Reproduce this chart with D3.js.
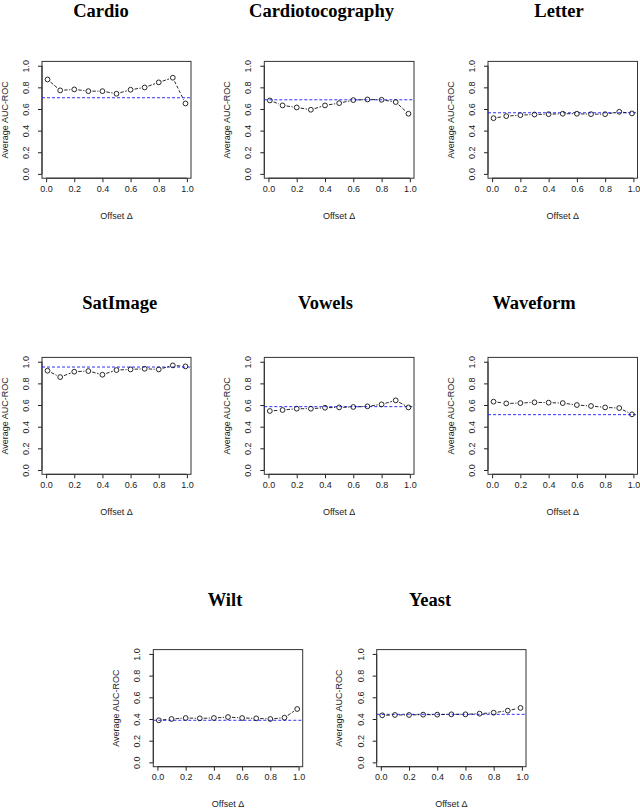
<!DOCTYPE html>
<html>
<head>
<meta charset="utf-8">
<script src="https://cdn.jsdelivr.net/npm/d3@7"></script>
<style>
  html, body { margin: 0; padding: 0; background: #fff; }
  svg { display: block; }
</style>
</head>
<body>
<svg id="chart" width="640" height="809"></svg>
<script>
// ---------------- DATA ----------------
const offsets = [0.01, 0.1, 0.2, 0.3, 0.4, 0.5, 0.6, 0.7, 0.8, 0.9, 0.99];
const datasetNames = ["Cardio", "Cardiotocography", "Letter", "SatImage", "Vowels", "Waveform", "Wilt", "Yeast"];
const cardio           = [0.873, 0.772, 0.781, 0.765, 0.765, 0.741, 0.778, 0.799, 0.846, 0.889, 0.651];
const cardiotocography = [0.679, 0.633, 0.614, 0.593, 0.633, 0.654, 0.682, 0.688, 0.685, 0.664, 0.556];
const letter           = [0.515, 0.534, 0.543, 0.549, 0.552, 0.556, 0.556, 0.552, 0.552, 0.574, 0.559];
const satimage         = [0.917, 0.858, 0.908, 0.914, 0.880, 0.923, 0.929, 0.935, 0.929, 0.966, 0.957];
const vowels           = [0.545, 0.554, 0.566, 0.566, 0.575, 0.578, 0.582, 0.588, 0.606, 0.643, 0.578];
const waveform         = [0.631, 0.615, 0.618, 0.625, 0.622, 0.618, 0.600, 0.591, 0.578, 0.572, 0.514];
const wilt             = [0.388, 0.400, 0.409, 0.406, 0.409, 0.418, 0.409, 0.406, 0.400, 0.412, 0.492];
const yeast            = [0.434, 0.437, 0.437, 0.440, 0.440, 0.443, 0.443, 0.449, 0.458, 0.477, 0.502];
const baselines        = [0.704, 0.685, 0.565, 0.951, 0.585, 0.511, 0.388, 0.443];
const xTicks = [0, 0.2, 0.4, 0.6, 0.8, 1.0];
const yTicks = [0, 0.2, 0.4, 0.6, 0.8, 1.0];
const xLabel = "Offset \u0394";
const yLabel = "Average AUC-ROC";
const seriesValues = [cardio, cardiotocography, letter, satimage, vowels, waveform, wilt, yeast];

// ---------------- LAYOUT ----------------
// plot box [left, top, right, bottom] and title [centerX, baselineY]
const boxes = [
  [42, 61.4, 191, 178.2],
  [264.3, 61.4, 414, 178.2],
  [488, 61.4, 637.5, 178.2],
  [42, 357.4, 191, 474.3],
  [264.3, 357.4, 414, 474.3],
  [488, 357.4, 637.5, 474.3],
  [153.3, 649.6, 302.7, 766.7],
  [376.7, 649.6, 526, 766.7]
];
const titlePos = [
  [101, 16.5], [321.5, 16.5], [559, 16.5],
  [119.7, 309], [325.5, 309], [534, 309],
  [225, 606], [430, 606]
];

const svg = d3.select("#chart");
const sansFont = "'Liberation Sans', Arial, Helvetica, sans-serif";
const serifFont = "'Liberation Serif', 'Times New Roman', Times, serif";

// R-style 4% axis extension
const xr = d3.extent(offsets);
const xPad = (xr[1] - xr[0]) * 0.04;
const xDomain = [xr[0] - xPad, xr[1] + xPad];
const yDomain = [0 - 0.04, 1 + 0.04];

datasetNames.forEach((name, i) => {
  const [L, T, R, B] = boxes[i];
  const x = d3.scaleLinear().domain(xDomain).range([L, R]);
  const y = d3.scaleLinear().domain(yDomain).range([B, T]);
  const g = svg.append("g");
  const vals = seriesValues[i];

  // title
  g.append("text")
    .attr("x", titlePos[i][0]).attr("y", titlePos[i][1])
    .attr("text-anchor", "middle")
    .attr("font-family", serifFont)
    .attr("font-weight", "bold")
    .attr("font-size", 18.5)
    .attr("fill", "#000")
    .text(name);

  // x axis
  const xAxis = d3.axisBottom(x).tickValues(xTicks).tickSize(4).tickPadding(3)
    .tickFormat(d3.format(".1f"));
  const gx = g.append("g").attr("transform", `translate(0,${B})`).call(xAxis);
  gx.select(".domain").attr("d", `M${x(0)},0H${x(1)}`).attr("stroke", "#222");
  gx.selectAll(".tick line").attr("stroke", "#222");
  gx.selectAll("text").attr("font-family", sansFont).attr("font-size", 9).attr("fill", "#222");

  // y axis
  const yAxis = d3.axisLeft(y).tickValues(yTicks).tickSize(4).tickPadding(3)
    .tickFormat(d3.format(".1f"));
  const gy = g.append("g").attr("transform", `translate(${L},0)`).call(yAxis);
  gy.select(".domain").attr("d", `M0,${y(0)}V${y(1)}`).attr("stroke", "#222");
  gy.selectAll(".tick line").attr("stroke", "#222");
  gy.selectAll("text")
    .attr("font-family", sansFont).attr("font-size", 9).attr("fill", "#222")
    .attr("x", null).attr("dy", null)
    .attr("text-anchor", "middle")
    .attr("transform", "translate(-13,0) rotate(-90)");

  // box
  g.append("rect")
    .attr("x", L).attr("y", T).attr("width", R - L).attr("height", B - T)
    .attr("fill", "none").attr("stroke", "#333").attr("stroke-width", 1);

  // axis titles
  g.append("text")
    .attr("x", (L + R) / 2).attr("y", B + 40.5)
    .attr("text-anchor", "middle")
    .attr("font-family", sansFont).attr("font-size", 9).attr("fill", "#222")
    .text(xLabel);
  g.append("text")
    .attr("transform", `translate(${L - 34.5},${(T + B) / 2}) rotate(-90)`)
    .attr("text-anchor", "middle")
    .attr("font-family", sansFont).attr("font-size", 9).attr("fill", "#222")
    .text(yLabel);

  // baseline (blue dashed)
  g.append("line")
    .attr("x1", L).attr("x2", R)
    .attr("y1", y(baselines[i])).attr("y2", y(baselines[i]))
    .attr("stroke", "#1a1aff").attr("stroke-width", 0.9)
    .attr("stroke-dasharray", "3,2");

  // type="b" dashed connecting segments with gaps at points
  const r = 2.4, gap = r + 1.6;
  const pts = offsets.map((o, k) => [x(o), y(vals[k])]);
  for (let k = 0; k < pts.length - 1; k++) {
    const [x1, y1] = pts[k], [x2, y2] = pts[k + 1];
    const dx = x2 - x1, dy = y2 - y1, len = Math.hypot(dx, dy);
    if (len <= 2 * gap) continue;
    const ux = dx / len, uy = dy / len;
    g.append("line")
      .attr("x1", x1 + ux * gap).attr("y1", y1 + uy * gap)
      .attr("x2", x2 - ux * gap).attr("y2", y2 - uy * gap)
      .attr("stroke", "#111").attr("stroke-width", 0.9)
      .attr("stroke-dasharray", len - 2 * gap > 12 ? "3,2" : "3.5,1.5");
  }

  // points
  g.selectAll("circle.pt").data(offsets).enter().append("circle")
    .attr("class", "pt")
    .attr("cx", d => x(d))
    .attr("cy", (d, k) => y(vals[k]))
    .attr("r", r)
    .attr("fill", "none").attr("stroke", "#111").attr("stroke-width", 0.9);
});
</script>
</body>
</html>
